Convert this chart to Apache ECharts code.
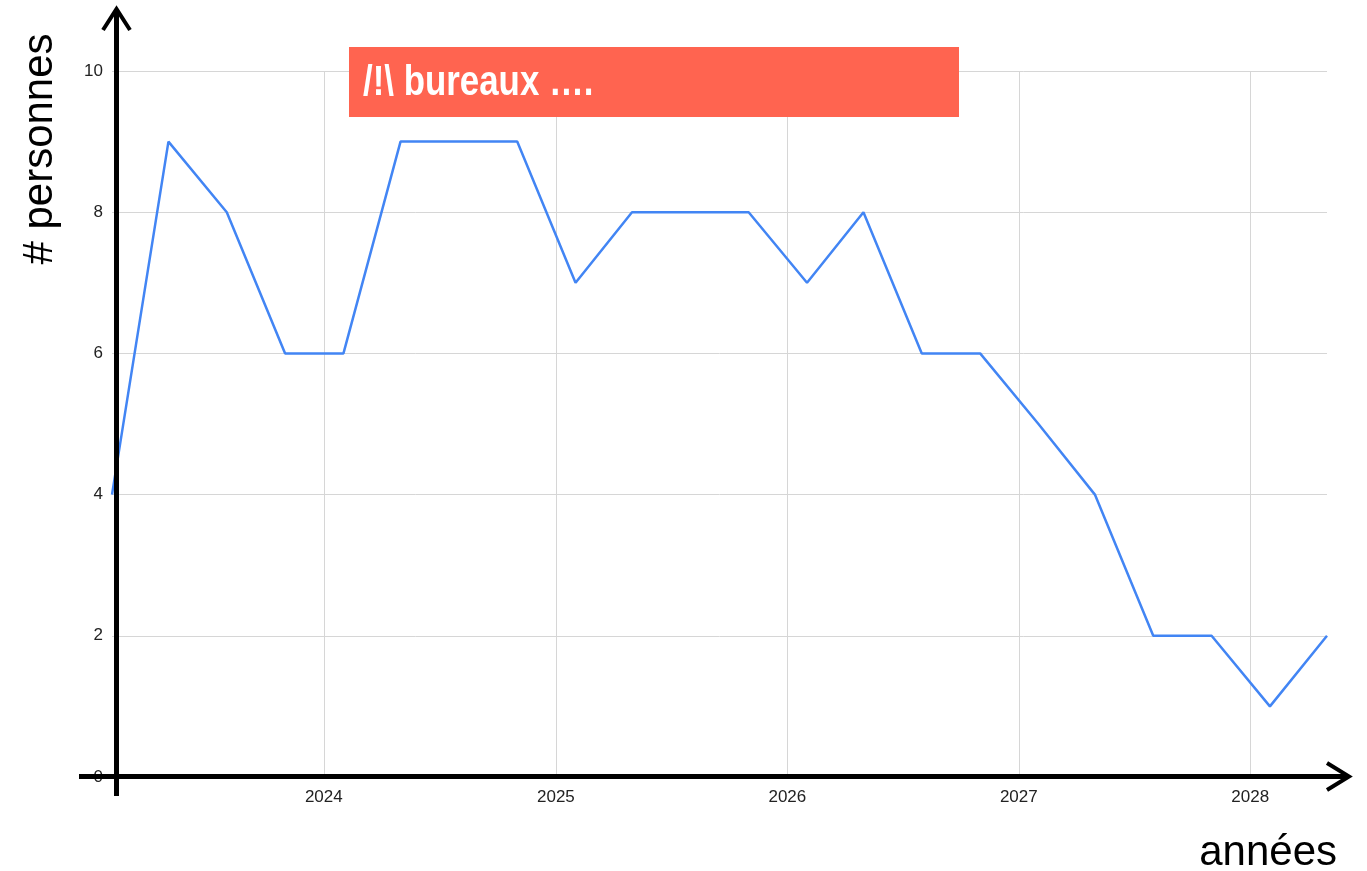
<!DOCTYPE html>
<html>
<head>
<meta charset="utf-8">
<title>bureaux</title>
<script src="https://cdn.jsdelivr.net/npm/echarts@6/dist/echarts.min.js"></script>
<style>
  html, body { margin: 0; padding: 0; background: #fff; }
  #chart { width: 1367px; height: 871px; }
</style>
</head>
<body>
<div id="chart"></div>
<script>
// donnees (un point par trimestre)
var dates = [
  "2023-02-01", "2023-05-01", "2023-08-01", "2023-11-01",
  "2024-02-01", "2024-05-01", "2024-08-01", "2024-11-01",
  "2025-02-01", "2025-05-01", "2025-08-01", "2025-11-01",
  "2026-02-01", "2026-05-01", "2026-08-01", "2026-11-01",
  "2027-02-01", "2027-05-01", "2027-08-01", "2027-11-01",
  "2028-02-01", "2028-05-01"
];
var personnes = [4, 9, 8, 6, 6, 9, 9, 9, 7, 8, 8, 8, 7, 8, 6, 6, 5, 4, 2, 2, 1, 2];
var yTicks = [0, 2, 4, 6, 8, 10];
var titre = "/!\\ bureaux ….";
var nomY = "# personnes";
var nomX = "années";

var W = 1367, H = 871;
var gridLeft = 112, gridRight = 40, gridTop = 71, gridBottom = 94;
var axeY = 116.5; // fleche verticale dessinee par-dessus
var axeX = H - gridBottom; // position de l'axe horizontal
var font = "'Liberation Sans', Arial, Helvetica, sans-serif";
var YEAR = 365 * 24 * 3600 * 1000;

var chart = echarts.init(document.getElementById("chart"));

chart.setOption({
  animation: false,
  grid: {
    left: gridLeft,
    right: gridRight,
    top: gridTop,
    bottom: gridBottom,
    containLabel: false
  },
  xAxis: {
    type: "time",
    min: dates[0],
    max: dates[dates.length - 1],
    minInterval: YEAR,
    maxInterval: YEAR,
    axisLine: { show: false },
    axisTick: { show: false },
    axisLabel: {
      formatter: "{yyyy}",
      fontFamily: font,
      fontSize: 17,
      color: "#222",
      margin: 12,
      showMinLabel: false,
      showMaxLabel: false
    },
    splitLine: {
      show: true,
      showMinLine: false,
      showMaxLine: false,
      lineStyle: { color: "#d6d6d6", width: 1 }
    }
  },
  yAxis: {
    type: "value",
    min: yTicks[0],
    max: yTicks[yTicks.length - 1],
    interval: yTicks[1] - yTicks[0],
    axisLine: { show: false },
    axisTick: { show: false },
    axisLabel: {
      fontFamily: font,
      fontSize: 17,
      color: "#222",
      margin: 9
    },
    splitLine: {
      lineStyle: { color: "#d6d6d6", width: 1 }
    }
  },
  series: [
    {
      type: "line",
      data: dates.map(function(d, i) { return [d, personnes[i]]; }),
      showSymbol: false,
      lineStyle: { color: "#4285F4", width: 2.5 },
      itemStyle: { color: "#4285F4" },
      clip: false
    }
  ],
  graphic: [
    // axe vertical + fleche
    {
      type: "line", z: 100,
      shape: { x1: axeY, y1: axeX + 19, x2: axeY, y2: 11 },
      style: { stroke: "#000", lineWidth: 5 }
    },
    {
      type: "polyline", z: 100,
      shape: { points: [[axeY - 13.5, 30], [axeY, 9], [axeY + 13.5, 30]] },
      style: { stroke: "#000", lineWidth: 4, fill: null }
    },
    // axe horizontal + fleche
    {
      type: "line", z: 100,
      shape: { x1: 79, y1: axeX - 0.5, x2: 1347, y2: axeX - 0.5 },
      style: { stroke: "#000", lineWidth: 5 }
    },
    {
      type: "polyline", z: 100,
      shape: { points: [[1327, axeX - 14], [1349, axeX - 0.5], [1327, axeX + 13]] },
      style: { stroke: "#000", lineWidth: 4, fill: null }
    },
    // noms des axes
    {
      type: "text", z: 100,
      x: 40, y: 149, rotation: Math.PI / 2,
      style: {
        text: nomY, fill: "#000",
        font: "42px " + font,
        textAlign: "center", textVerticalAlign: "middle"
      }
    },
    {
      type: "text", z: 100,
      x: 1337, y: 853,
      style: {
        text: nomX, fill: "#000",
        font: "42px " + font,
        textAlign: "right", textVerticalAlign: "middle"
      }
    },
    // bandeau rouge
    {
      type: "rect", z: 100,
      shape: { x: 349, y: 47, width: 610, height: 70 },
      style: { fill: "#FF6450" }
    },
    {
      type: "text", z: 101,
      x: 363, y: 83, scaleX: 0.83,
      style: {
        text: titre, fill: "#fff",
        font: "bold 42px " + font,
        textAlign: "left", textVerticalAlign: "middle"
      }
    }
  ]
});
</script>
</body>
</html>
